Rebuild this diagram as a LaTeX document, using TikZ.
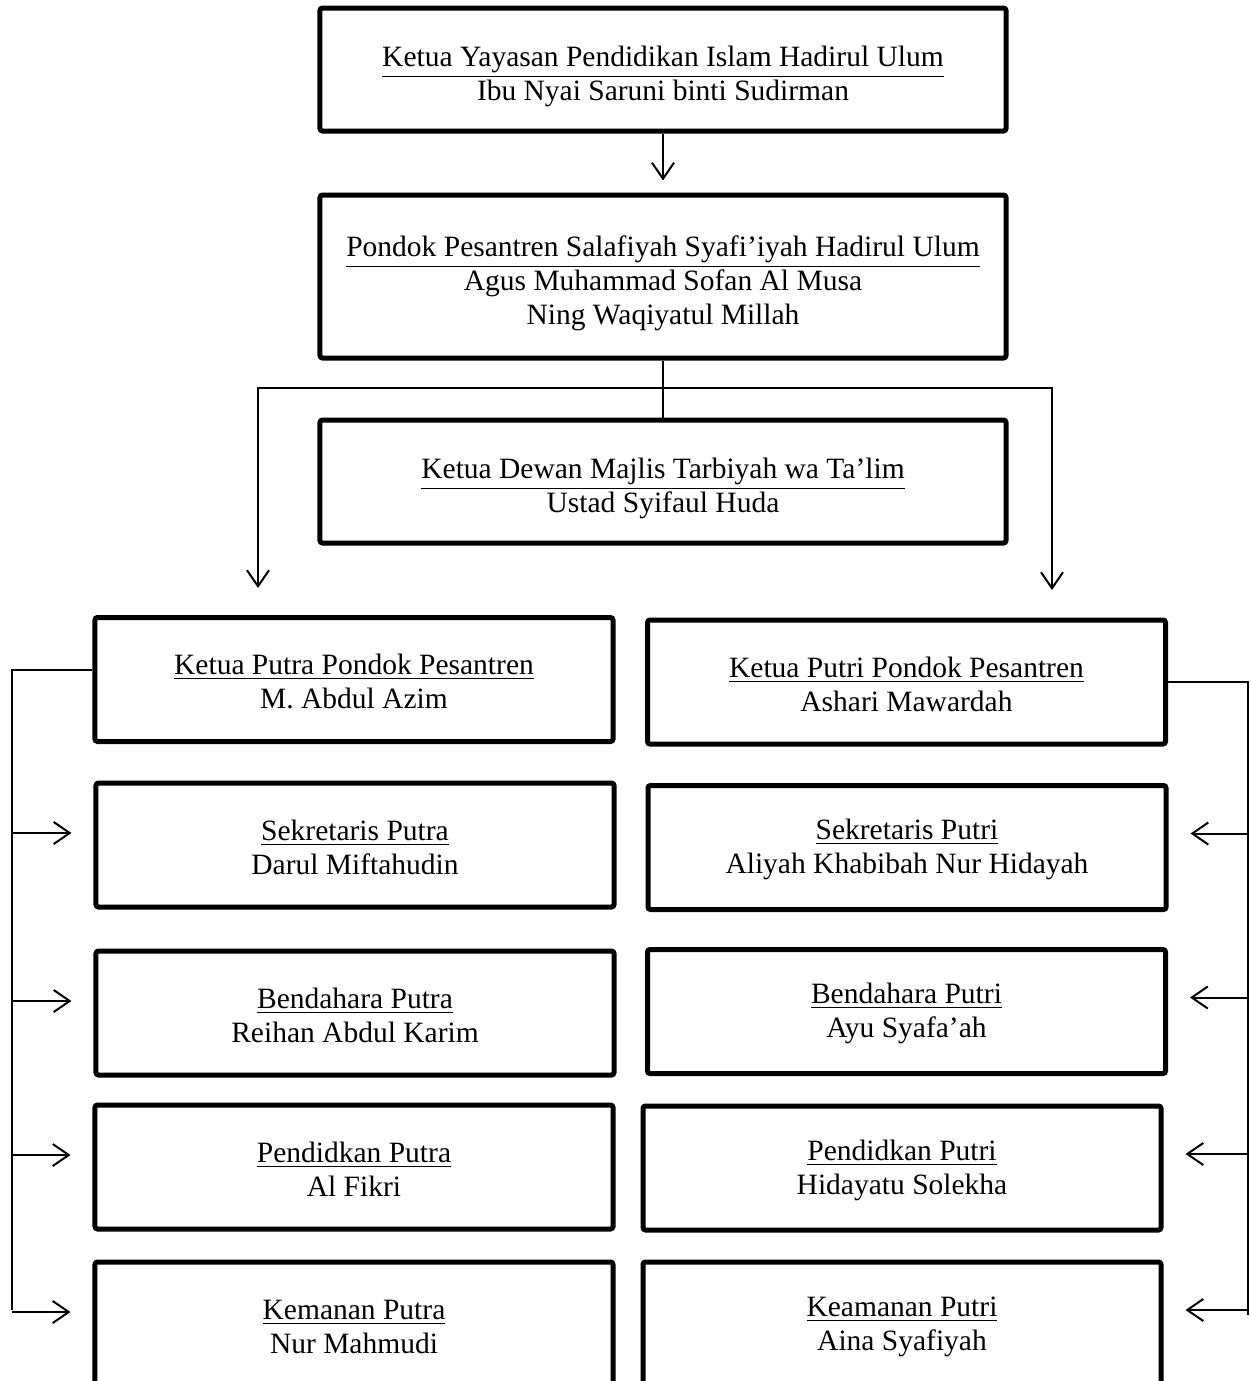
\documentclass[tikz,border=0pt]{standalone}
\usepackage{fontspec}
\setmainfont{Liberation Serif}
\usetikzlibrary{arrows.meta,positioning,calc}

\newlength{\headroom}
\setlength{\headroom}{14pt}
\newcommand{\headline}[1]{\rule{0pt}{\headroom}\underline{#1}}

\begin{document}
\begin{tikzpicture}[x=0.4pt,y=-0.4pt]
	\tikzset{align=center,font=\fontsize{11.8}{13.6}\selectfont}

	\tikzset{box/.style = {shape=rectangle,draw,line width=2pt,rounded corners=1pt,minimum width=274.4pt,minimum height=49.2pt}}

	\tikzset{unit/.style = {box,minimum width=207.2pt,minimum height=49.6pt,execute at begin node={\setlength{\headroom}{10pt}}}}

	\tikzset{link/.style = {line width=0.8pt,> = {Straight Barb[length=6.4pt,width=8.8pt,line width=0.8pt]}}}

	\useasboundingbox (0,0) rectangle (1251,1381);
	\clip (0,0) rectangle (1251,1381);

	% boxes

	\node[box] (yayasan) at (663,69.5) {\headline{Ketua Yayasan Pendidikan Islam Hadirul Ulum}\\Ibu Nyai Saruni binti Sudirman};

	\node[box,minimum height=65.2pt] (pondok) at (663,276.5) {\headline{Pondok Pesantren Salafiyah Syafi’iyah Hadirul Ulum}\\Agus Muhammad Sofan Al Musa\\Ning Waqiyatul Millah};

	\node[box] (dewan) at (663,481.5) {\headline{Ketua Dewan Majlis Tarbiyah wa Ta’lim}\\Ustad Syifaul Huda};

	\node[unit] (putra) at (354,679.5) {\headline{Ketua Putra Pondok Pesantren}\\M. Abdul Azim};

	\node[unit] (sekputra) at (355,845) {\headline{Sekretaris Putra}\\Darul Miftahudin};

	\node[unit] (benputra) at (355,1013) {\headline{Bendahara Putra}\\Reihan Abdul Karim};

	\node[unit] (penputra) at (354,1167) {\headline{Pendidkan Putra}\\Al Fikri};

	\node[unit] (kamputra) at (354,1324) {\headline{Kemanan Putra}\\Nur Mahmudi};

	\node[unit] (putri) at (906.5,682) {\headline{Ketua Putri Pondok Pesantren}\\Ashari Mawardah};

	\node[unit] (sekputri) at (907,847.5) {\headline{Sekretaris Putri}\\Aliyah Khabibah Nur Hidayah};

	\node[unit] (benputri) at (906.5,1011.5) {\headline{Bendahara Putri}\\Ayu Syafa’ah};

	\node[unit] (penputri) at (902,1168) {\headline{Pendidkan Putri}\\Hidayatu Solekha};

	\node[unit] (kamputri) at (902,1324) {\headline{Keamanan Putri}\\Aina Syafiyah};

	% coordinates

	\coordinate (fork) at (664,388);

	\coordinate (tipL) at (258,588);

	\coordinate (tipR) at (1052,590);

	\coordinate (spineL) at (12,0);

	\coordinate (spineR) at (1248,0);

	% links

	\draw[link,->,shorten >=4.8pt] (yayasan) -- (pondok);
	\draw[link] (pondok) -- (dewan);
	\draw[link,->] (fork) -| (tipL);
	\draw[link,->] (fork) -| (tipR);

	\draw[link] ([yshift=4pt]putra.west) -| ([yshift=5.6pt]spineL |- kamputra.west);
	\foreach \n in {sekputra,benputra,penputra,kamputra}
		\draw[link,->] ([yshift=4.8pt]spineL |- \n.west) -- ([xshift=-8.8pt,yshift=4.8pt]\n.west);

	\draw[link] (putri.east) -| ([yshift=3.6pt]spineR |- kamputri.east);
	\foreach \n in {sekputri,benputri,penputri,kamputri}
		\draw[link,->] ([yshift=5.6pt]spineR |- \n.east) -- ([xshift=8.8pt,yshift=5.6pt]\n.east);
\end{tikzpicture}
\end{document}
